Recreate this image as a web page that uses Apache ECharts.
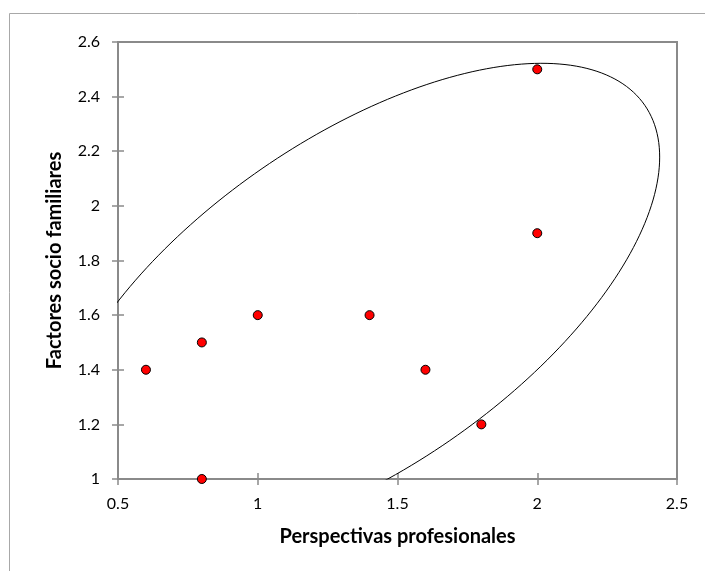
<!DOCTYPE html>
<html>
<head>
<meta charset="utf-8">
<script src="https://cdn.jsdelivr.net/npm/echarts@6/dist/echarts.min.js"></script>
<style>
html,body{margin:0;padding:0;background:#fff;}
#chart{width:705px;height:571px;}
</style>
</head>
<body>
<div id="chart"></div>
<script>
// Data
var xValues = [0.6, 0.8, 0.8, 1.0, 1.4, 1.6, 1.8, 2.0, 2.0];
var yValues = [1.4, 1.5, 1.0, 1.6, 1.6, 1.4, 1.2, 1.9, 2.5];
var xTitle = 'Perspectivas profesionales';
var yTitle = 'Factores socio familiares';
var xRange = [0.5, 2.5, 0.5];
var yRange = [1.0, 2.6, 0.2];
// Ellipse parameters: center, x/y half-extents, correlation
var ellipseCenter = [1.3512, 1.6386];
var ellipseSpread = [1.0868, 0.8834];
var ellipseCorr = 0.6114;
var ellipseSteps = 240;

var points = xValues.map(function (x, i) { return [x, yValues[i]]; });
var ellipse = [];
var s = Math.sqrt(1 - ellipseCorr * ellipseCorr);
for (var k = 0; k <= ellipseSteps; k++) {
  var t = 2 * Math.PI * k / ellipseSteps;
  ellipse.push([
    ellipseCenter[0] + ellipseSpread[0] * Math.cos(t),
    ellipseCenter[1] + ellipseSpread[1] * (ellipseCorr * Math.cos(t) + s * Math.sin(t))
  ]);
}

var FONT = 'Lato';
var AX = '#8a8a8a';
function fmt(v) { return String(Math.round(v * 10) / 10); }

var chart = echarts.init(document.getElementById('chart'), null, {renderer: 'canvas'});
chart.setOption({
  backgroundColor: '#ffffff',
  animation: false,
  graphic: [{
    type: 'rect', silent: true, z: -10,
    shape: {x: 9.5, y: 13.5, width: 1000, height: 1000},
    style: {fill: 'none', stroke: '#a8a8a8', lineWidth: 1}
  }],
  grid: {
    left: 118, right: 28, top: 42, bottom: 92,
    show: true, borderColor: AX, borderWidth: 2, backgroundColor: 'transparent'
  },
  xAxis: [{
    type: 'value', min: xRange[0], max: xRange[1], interval: xRange[2],
    position: 'bottom',
    name: xTitle, nameLocation: 'middle', nameGap: 48,
    nameTextStyle: {fontFamily: FONT, fontWeight: 'bold', fontSize: 20, color: '#000'},
    axisLine: {show: true, onZero: false, lineStyle: {color: AX, width: 2}},
    axisTick: {show: true, inside: false, length: 6, lineStyle: {color: AX, width: 1.5}},
    axisLabel: {fontFamily: FONT, fontSize: 16, color: '#000', margin: 17, formatter: fmt},
    splitLine: {show: false}
  }, {
    type: 'value', min: xRange[0], max: xRange[1], interval: xRange[2],
    position: 'bottom', gridIndex: 0,
    axisLine: {show: false, onZero: false},
    axisTick: {show: true, inside: true, length: 6, lineStyle: {color: AX, width: 1.5}},
    axisLabel: {show: false},
    splitLine: {show: false}
  }],
  yAxis: [{
    type: 'value', min: yRange[0], max: yRange[1], interval: yRange[2],
    position: 'left',
    name: yTitle, nameLocation: 'middle', nameGap: 53, nameRotate: 90,
    nameTextStyle: {fontFamily: FONT, fontWeight: 'bold', fontSize: 20, color: '#000'},
    axisLine: {show: true, onZero: false, lineStyle: {color: AX, width: 2}},
    axisTick: {show: true, inside: false, length: 6, lineStyle: {color: AX, width: 1.5}},
    axisLabel: {fontFamily: FONT, fontSize: 16, color: '#000', margin: 18, formatter: fmt},
    splitLine: {show: false}
  }, {
    type: 'value', min: yRange[0], max: yRange[1], interval: yRange[2],
    position: 'left', gridIndex: 0,
    axisLine: {show: false, onZero: false},
    axisTick: {show: true, inside: true, length: 6, lineStyle: {color: AX, width: 1.5}},
    axisLabel: {show: false},
    splitLine: {show: false}
  }],
  series: [{
    type: 'line', data: ellipse, showSymbol: false, symbol: 'none',
    clip: true, silent: true, smooth: false,
    lineStyle: {color: '#000', width: 1}, z: 2
  }, {
    type: 'scatter', data: points, symbol: 'circle', symbolSize: 9,
    itemStyle: {color: '#ff0000', borderColor: '#000', borderWidth: 1, opacity: 1},
    z: 3
  }]
});
</script>
</body>
</html>
